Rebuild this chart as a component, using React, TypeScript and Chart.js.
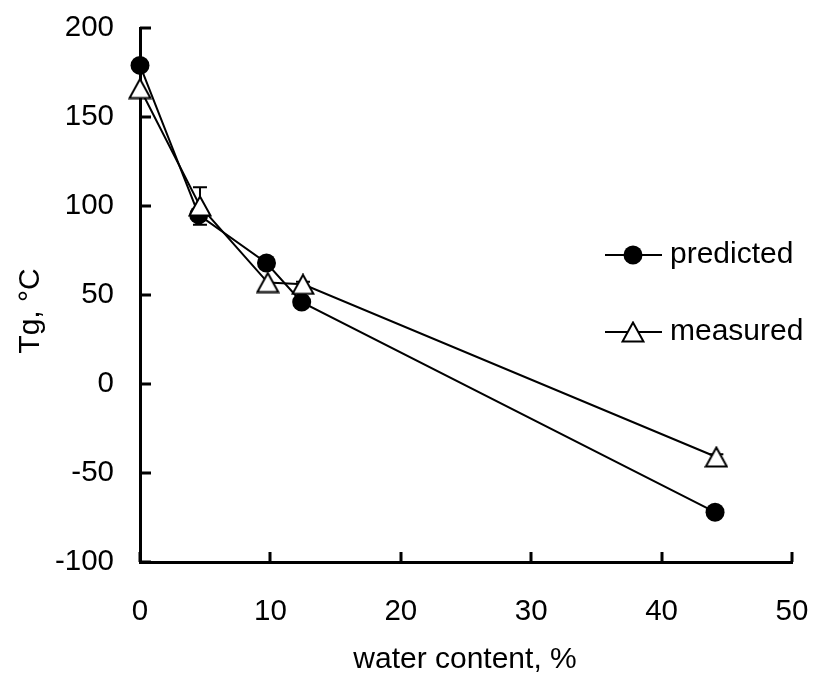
import React, { useEffect, useRef } from "react";
import { Chart, registerables } from "chart.js";

Chart.register(...registerables);

// Water content (%) and glass transition temperature (°C)
const predictedX = [0, 4.5, 9.7, 12.4, 44.1];
const predictedY = [179, 95, 68, 46, -72];
const measuredX = [0, 4.6, 9.8, 12.5, 44.2];
const measuredY = [166, 100, 57, 56, -41];
const measuredErr = [0, 10.5, 0, 1.5, 1.5];

const xTicks = [0, 10, 20, 30, 40, 50];
const yTicks = [-100, -50, 0, 50, 100, 150, 200];

const seriesNames = ["predicted", "measured"];
const FONT = '"Liberation Sans", Arial, sans-serif';

function makeTriangle(): HTMLCanvasElement {
  const c = document.createElement("canvas");
  c.width = 24;
  c.height = 22;
  const ctx = c.getContext("2d")!;
  ctx.beginPath();
  ctx.moveTo(12, 1.5);
  ctx.lineTo(22.5, 20.5);
  ctx.lineTo(1.5, 20.5);
  ctx.closePath();
  ctx.fillStyle = "#fff";
  ctx.fill();
  ctx.lineWidth = 2;
  ctx.strokeStyle = "#000";
  ctx.lineJoin = "miter";
  ctx.stroke();
  return c;
}

// keep the plot area where the layout padding puts it
function fixBox(size: number, horizontal: boolean) {
  return (s: any) => {
    if (horizontal) s.height = size;
    else s.width = size;
    s.paddingTop = 0;
    s.paddingBottom = 0;
    s.paddingLeft = 0;
    s.paddingRight = 0;
  };
}

export default function App() {
  const ref = useRef<HTMLCanvasElement | null>(null);

  useEffect(() => {
    const canvas = ref.current!;
    const tri = makeTriangle();

    const decorations = {
      id: "decorations",
      beforeDatasetsDraw(chart: any) {
        const { ctx, scales } = chart;
        ctx.save();
        ctx.strokeStyle = "#000";
        ctx.lineWidth = 2;
        measuredX.forEach((xv, i) => {
          const e = measuredErr[i];
          if (!e) return;
          const px = scales.x.getPixelForValue(xv);
          const top = scales.y.getPixelForValue(measuredY[i] + e);
          const bot = scales.y.getPixelForValue(measuredY[i] - e);
          ctx.beginPath();
          ctx.moveTo(px, top);
          ctx.lineTo(px, bot);
          ctx.moveTo(px - 7, top);
          ctx.lineTo(px + 7, top);
          ctx.moveTo(px - 7, bot);
          ctx.lineTo(px + 7, bot);
          ctx.stroke();
        });
        ctx.restore();
      },
      afterDraw(chart: any) {
        const { ctx, scales, chartArea } = chart;
        ctx.save();
        ctx.strokeStyle = "#000";
        ctx.lineWidth = 3;
        // inward tick marks
        ctx.beginPath();
        yTicks.forEach((v) => {
          const py = Math.round(scales.y.getPixelForValue(v));
          ctx.moveTo(chartArea.left, py);
          ctx.lineTo(chartArea.left + 11, py);
        });
        xTicks.forEach((v) => {
          const px = Math.round(scales.x.getPixelForValue(v));
          ctx.moveTo(px, chartArea.bottom);
          ctx.lineTo(px, chartArea.bottom - 10);
        });
        ctx.stroke();

        // axis titles
        ctx.fillStyle = "#000";
        ctx.font = `30px ${FONT}`;
        ctx.textAlign = "center";
        ctx.textBaseline = "middle";
        ctx.fillText("water content, %", 465, 660);
        ctx.save();
        ctx.translate(31, 311);
        ctx.rotate(-Math.PI / 2);
        ctx.fillText("Tg, °C", 0, 0);
        ctx.restore();

        // legend
        const rows = [255, 332];
        ctx.lineWidth = 2;
        ctx.textAlign = "left";
        rows.forEach((ry, i) => {
          ctx.beginPath();
          ctx.moveTo(605, ry);
          ctx.lineTo(662, ry);
          ctx.stroke();
          if (i === 0) {
            ctx.beginPath();
            ctx.arc(633, ry, 9.5, 0, Math.PI * 2);
            ctx.fillStyle = "#000";
            ctx.fill();
          } else {
            ctx.drawImage(tri, 633 - tri.width / 2, ry - tri.height / 2);
          }
          ctx.fillStyle = "#000";
          ctx.fillText(seriesNames[i], 670, ry);
        });
        ctx.restore();
      },
    };

    const chart = new Chart(canvas, {
      type: "scatter",
      data: {
        datasets: [
          {
            label: seriesNames[0],
            data: predictedX.map((x, i) => ({ x, y: predictedY[i] })),
            showLine: true,
            clip: false,
            borderColor: "#000",
            borderWidth: 2,
            backgroundColor: "#000",
            pointStyle: "circle",
            pointRadius: 9.5,
            pointBorderWidth: 0,
            order: 2,
          },
          {
            label: seriesNames[1],
            data: measuredX.map((x, i) => ({ x, y: measuredY[i] })),
            showLine: true,
            clip: false,
            borderColor: "#000",
            borderWidth: 2,
            backgroundColor: "#fff",
            pointStyle: tri,
            pointRadius: 11,
            order: 1,
          },
        ],
      },
      options: {
        animation: false,
        responsive: false,
        devicePixelRatio: 1,
        layout: { padding: { left: 0, top: 28, right: 21, bottom: 0 } },
        plugins: { legend: { display: false }, tooltip: { enabled: false } },
        scales: {
          x: {
            type: "linear",
            min: 0,
            max: 50,
            afterFit: fixBox(114, true),
            afterBuildTicks: (s: any) => {
              s.ticks = xTicks.map((v) => ({ value: v }));
            },
            grid: { display: true, drawOnChartArea: false, drawTicks: false },
            border: { display: true, color: "#000", width: 3 },
            ticks: {
              color: "#000",
              font: { family: FONT, size: 29.5 },
              padding: 32,
              maxRotation: 0,
            },
          },
          y: {
            type: "linear",
            min: -100,
            max: 200,
            afterFit: fixBox(140, false),
            afterBuildTicks: (s: any) => {
              s.ticks = yTicks.map((v) => ({ value: v }));
            },
            grid: { display: true, drawOnChartArea: false, drawTicks: false },
            border: { display: true, color: "#000", width: 3 },
            ticks: {
              color: "#000",
              font: { family: FONT, size: 29.5 },
              padding: 26,
            },
          },
        },
      },
      plugins: [decorations],
    });

    return () => chart.destroy();
  }, []);

  return (
    <div style={{ position: "fixed", left: 0, top: 0, width: 813, height: 676, background: "#fff" }}>
      <canvas ref={ref} width={813} height={676} style={{ display: "block" }} />
    </div>
  );
}
